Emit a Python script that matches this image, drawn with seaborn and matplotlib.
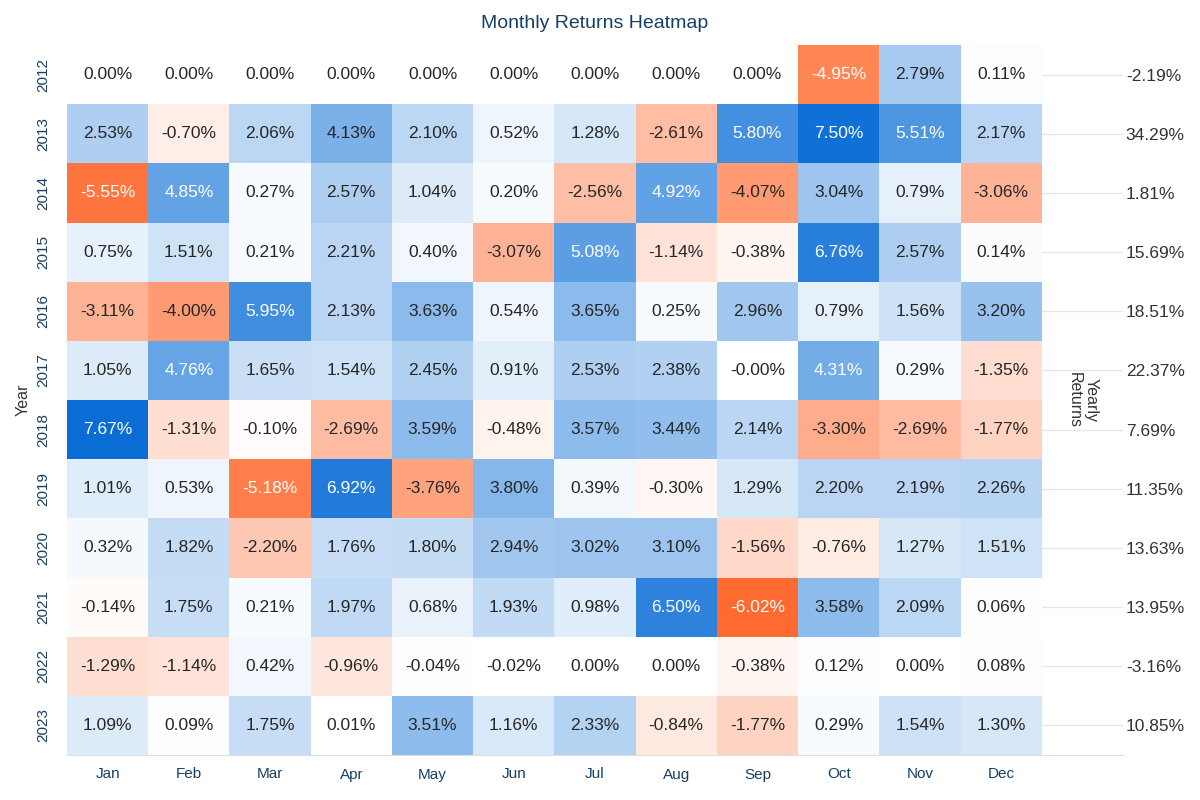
import pandas as pd
import matplotlib.pyplot as plt
import seaborn as sns
import numpy as np
from matplotlib.colors import LinearSegmentedColormap

# =========================
# DATA
# =========================
months = ['Jan', 'Feb', 'Mar', 'Apr', 'May', 'Jun', 'Jul', 'Aug', 'Sep', 'Oct', 'Nov', 'Dec']
years = ['2012', '2013', '2014', '2015', '2016', '2017', '2018', '2019', '2020', '2021', '2022', '2023']

r2012 = [0.00, 0.00, 0.00, 0.00, 0.00, 0.00, 0.00, 0.00, 0.00, -4.95, 2.79, 0.11]
r2013 = [2.53, -0.70, 2.06, 4.13, 2.10, 0.52, 1.28, -2.61, 5.80, 7.50, 5.51, 2.17]
r2014 = [-5.55, 4.85, 0.27, 2.57, 1.04, 0.20, -2.56, 4.92, -4.07, 3.04, 0.79, -3.06]
r2015 = [0.75, 1.51, 0.21, 2.21, 0.40, -3.07, 5.08, -1.14, -0.38, 6.76, 2.57, 0.14]
r2016 = [-3.11, -4.00, 5.95, 2.13, 3.63, 0.54, 3.65, 0.25, 2.96, 0.79, 1.56, 3.20]
r2017 = [1.05, 4.76, 1.65, 1.54, 2.45, 0.91, 2.53, 2.38, -0.001, 4.31, 0.29, -1.35]
r2018 = [7.67, -1.31, -0.10, -2.69, 3.59, -0.48, 3.57, 3.44, 2.14, -3.30, -2.69, -1.77]
r2019 = [1.01, 0.53, -5.18, 6.92, -3.76, 3.80, 0.39, -0.30, 1.29, 2.20, 2.19, 2.26]
r2020 = [0.32, 1.82, -2.20, 1.76, 1.80, 2.94, 3.02, 3.10, -1.56, -0.76, 1.27, 1.51]
r2021 = [-0.14, 1.75, 0.21, 1.97, 0.68, 1.93, 0.98, 6.50, -6.02, 3.58, 2.09, 0.06]
r2022 = [-1.29, -1.14, 0.42, -0.96, -0.04, -0.02, 0.00, 0.00, -0.38, 0.12, 0.00, 0.08]
r2023 = [1.09, 0.09, 1.75, 0.01, 3.51, 1.16, 2.33, -0.84, -1.77, 0.29, 1.54, 1.30]

yearly_returns = [-2.19, 34.29, 1.81, 15.69, 18.51, 22.37, 7.69, 11.35, 13.63, 13.95, -3.16, 10.85]

returns_df = pd.DataFrame([r2012, r2013, r2014, r2015, r2016, r2017, r2018,
                           r2019, r2020, r2021, r2022, r2023],
                          index=years, columns=months)
annot_labels = returns_df.map(lambda v: f'{v:.2f}%')

# =========================
# STYLE
# =========================
sns.set_style('white')
plt.rcParams['font.family'] = ['Liberation Sans', 'DejaVu Sans']

navy = '#163f66'
vmin = returns_df.values.min()
vmax = returns_df.values.max()
mid = -vmin / (vmax - vmin)
cmap = LinearSegmentedColormap.from_list(
    'ret', [(0.0, '#ff6a30'), (mid, '#ffffff'), (1.0, '#0a6dd6')])

# =========================
# FIGURE
# =========================
fig = plt.figure(figsize=(12, 8), dpi=100)
ax = fig.add_axes([67 / 1200, 1 - 755 / 800, 1056 / 1200, 710 / 800])

sns.heatmap(returns_df, ax=ax, cmap=cmap, vmin=vmin, vmax=vmax, cbar=False,
            annot=annot_labels, fmt='', annot_kws={'fontsize': 12.5})

ax.set_xlim(0, 13)
ax.set_axisbelow(True)
ax.yaxis.grid(True, color='#e6e6e6', linewidth=1)
ax.xaxis.grid(False)

for side in ['top', 'right', 'left']:
    ax.spines[side].set_visible(False)
ax.spines['bottom'].set_visible(True)
ax.spines['bottom'].set_color('#dedede')

ax.tick_params(axis='x', length=0, pad=9, labelsize=11, labelcolor=navy)
ax.tick_params(axis='y', length=0, pad=12, labelsize=11, labelcolor=navy)
ax.set_yticklabels(years, rotation=90, va='center')
ax.set_xticklabels(months, rotation=0)
ax.set_xlabel('')
ax.set_ylabel('Year', fontsize=11.5, color='#333333', labelpad=4)
ax.set_title('Monthly Returns Heatmap', fontsize=14, color=navy, pad=12)

# yearly returns on the right side
ax2 = ax.twinx()
ax2.set_ylim(ax.get_ylim())
ax2.set_yticks(np.arange(len(years)) + 0.5)
ax2.set_yticklabels([f'{v:.2f}%' for v in yearly_returns])
ax2.tick_params(axis='y', length=0, pad=2, labelsize=12.5, labelcolor='#333333')
for side in ['top', 'right', 'left', 'bottom']:
    ax2.spines[side].set_visible(False)
ax2.set_ylabel('Yearly\nReturns', rotation=270, fontsize=11.5, color='#333333',
               va='center', ha='center')
ax2.yaxis.set_label_coords(0.962, 0.5)

plt.savefig('out.png', dpi=100)
plt.close()
